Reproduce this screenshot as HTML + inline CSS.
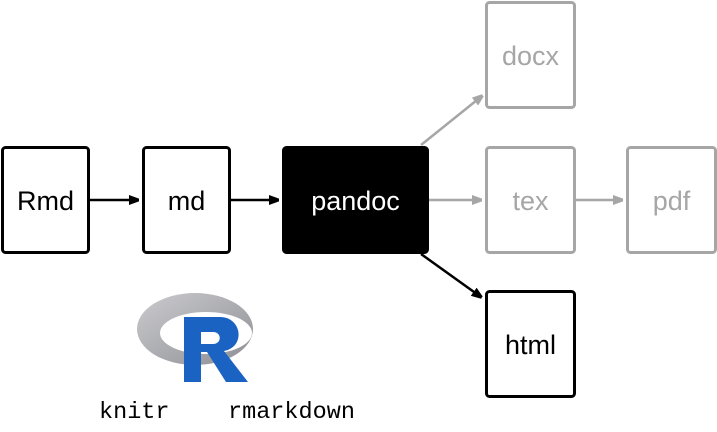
<!DOCTYPE html>
<html><head><meta charset="utf-8"><style>
html,body{margin:0;padding:0;background:#fff;width:717px;height:432px;overflow:hidden}
</style></head><body>
<svg width="717" height="432" viewBox="0 0 717 432" xmlns="http://www.w3.org/2000/svg">
<defs>
<marker id="ab" markerWidth="10" markerHeight="10" refX="9" refY="5" orient="auto" markerUnits="userSpaceOnUse"><path d="M0,0 L14,5 L0,10z" fill="#000"/></marker>
<marker id="ag" markerWidth="10" markerHeight="10" refX="9" refY="5" orient="auto" markerUnits="userSpaceOnUse"><path d="M0,0 L14,5 L0,10z" fill="#a6a6a6"/></marker>
<linearGradient id="rg" x1="0" y1="0" x2="1" y2="1"><stop offset="0" stop-color="#cbcbcf"/><stop offset="1" stop-color="#8e8f94"/></linearGradient>
</defs>
<g font-family="Liberation Sans, sans-serif" font-size="27" text-anchor="middle">
<rect x="2.5" y="147.5" width="86" height="105" rx="3" fill="#fff" stroke="#000" stroke-width="3"/>
<text x="45.5" y="210">Rmd</text>
<rect x="143.5" y="147.5" width="86" height="105" rx="3" fill="#fff" stroke="#000" stroke-width="3"/>
<text x="186.5" y="210">md</text>
<rect x="283.5" y="147.5" width="144" height="105" rx="3" fill="#000" stroke="#000" stroke-width="3"/>
<text x="355.5" y="210" fill="#fff">pandoc</text>
<rect x="486.5" y="2.5" width="88" height="105" rx="3" fill="#fff" stroke="#a6a6a6" stroke-width="3"/>
<text x="530.5" y="65" fill="#a6a6a6">docx</text>
<rect x="486.5" y="147.5" width="88" height="105" rx="3" fill="#fff" stroke="#a6a6a6" stroke-width="3"/>
<text x="530.5" y="210" fill="#a6a6a6">tex</text>
<rect x="627.5" y="147.5" width="88" height="105" rx="3" fill="#fff" stroke="#a6a6a6" stroke-width="3"/>
<text x="671.5" y="210" fill="#a6a6a6">pdf</text>
<rect x="486.5" y="291.5" width="88" height="105" rx="3" fill="#fff" stroke="#000" stroke-width="3"/>
<text x="530.5" y="354">html</text>
</g>
<g stroke-width="2.5" fill="none">
<line x1="90" y1="200" x2="138" y2="200" stroke="#000" marker-end="url(#ab)"/>
<line x1="231" y1="200" x2="278" y2="200" stroke="#000" marker-end="url(#ab)"/>
<line x1="429" y1="200" x2="481" y2="200" stroke="#a6a6a6" marker-end="url(#ag)"/>
<line x1="576" y1="200" x2="622" y2="200" stroke="#a6a6a6" marker-end="url(#ag)"/>
<line x1="421" y1="145" x2="482" y2="96" stroke="#a6a6a6" marker-end="url(#ag)"/>
<line x1="421" y1="254" x2="481" y2="297" stroke="#000" marker-end="url(#ab)"/>
</g>
<ellipse cx="195" cy="329" rx="58" ry="36" fill="url(#rg)"/>
<ellipse cx="206" cy="333" rx="46" ry="21" fill="#fff"/>
<path d="M184,317 h36 c22,0 26,30 4,34 l24,31 h-22 l-19,-30 h-6 v30 h-17z M201,332 v12 h12 c9,0 9,-12 0,-12z" fill="#1a63c2" fill-rule="evenodd"/>
<g font-family="Liberation Mono, monospace" font-size="23.5" fill="#000">
<text x="99" y="418">knitr</text>
<text x="228" y="418">rmarkdown</text>
</g>
</svg>
</body></html>
